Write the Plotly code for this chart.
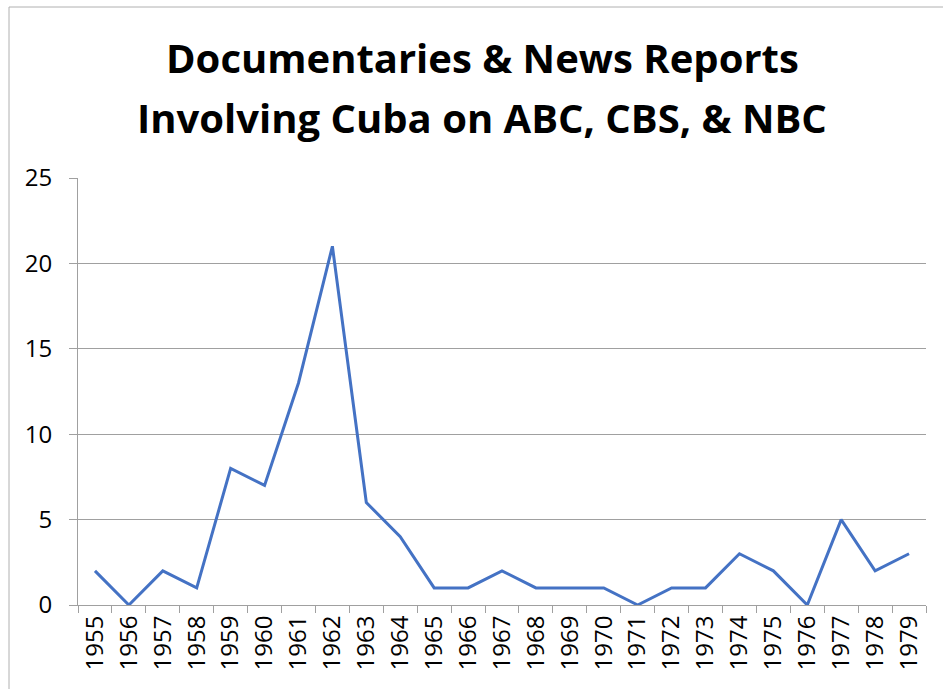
import plotly.graph_objects as go

years = [str(y) for y in range(1955, 1980)]
counts = [2, 0, 2, 1, 8, 7, 13, 21, 6, 4, 1, 1, 2, 1, 1, 1, 0, 1, 1, 3, 2, 0, 5, 2, 3]
title_lines = ["Documentaries & News Reports", "Involving Cuba on ABC, CBS, & NBC"]

W, H = 943, 689
L, R, T, B = 78, 17, 178, 84
pw, ph = W - L - R, H - T - B

def px(x):
    return (x - L) / pw

def py(y):
    return (H - B - y) / ph

fig = go.Figure()
fig.add_trace(go.Scatter(x=years, y=counts, mode="lines",
                         line=dict(color="#4472C4", width=3)))

font = "Open Sans, Liberation Sans, sans-serif"
fig.update_layout(
    width=W, height=H,
    margin=dict(l=L, r=R, t=T, b=B),
    paper_bgcolor="white", plot_bgcolor="white",
    showlegend=False,
    font=dict(family=font, size=24, color="black"),
    xaxis=dict(type="category", tickangle=-90, showgrid=False,
               showline=True, linecolor="#a0a0a0", linewidth=1,
               ticks="outside", tickson="boundaries", ticklen=7,
               tickcolor="#a0a0a0", tickfont=dict(size=24),
               range=[-0.5, len(years) - 0.5]),
    yaxis=dict(range=[0, 25], dtick=5, showgrid=True, gridcolor="#a0a0a0",
               gridwidth=1, showline=True, linecolor="#a0a0a0",
               ticks="outside", ticklen=8, tickcolor="#a0a0a0",
               ticklabelstandoff=12, zeroline=False, tickfont=dict(size=24)),
)

for i, (t, yc) in enumerate(zip(title_lines, [58, 117])):
    fig.add_annotation(text="<b>%s</b>" % t, xref="paper", yref="paper",
                       x=px(482), y=py(yc), xanchor="center", yanchor="middle",
                       showarrow=False, font=dict(size=40, family=font, color="black"))

fig.add_shape(type="rect", xref="paper", yref="paper",
              x0=px(9), y0=py(720), x1=px(960), y1=py(7),
              line=dict(color="#b0b0b0", width=1), layer="below")

fig.write_html("out.html")
